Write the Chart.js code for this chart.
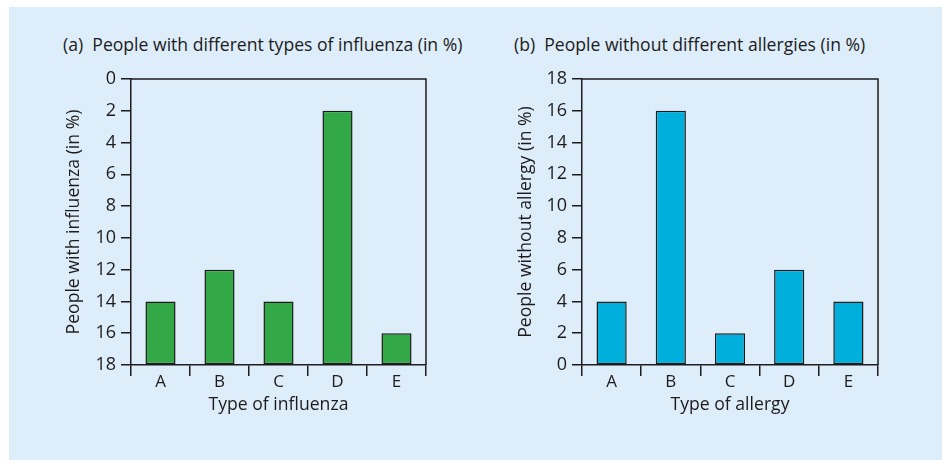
<!DOCTYPE html>
<html>
<head>
<meta charset="utf-8">
<script src="https://cdn.jsdelivr.net/npm/chart.js@4.4.0/dist/chart.umd.min.js"></script>
<style>
  html, body { margin: 0; padding: 0; background: #fff; }
  body { width: 942px; height: 460px; position: relative; overflow: hidden; font-family: 'Open Sans', sans-serif; color: #1e1b1c; }
  #panel { position: absolute; left: 9px; top: 7px; right: 0; bottom: 0; background: #ddeefa; }
  canvas { position: absolute; top: 0; }
  .ttl { position: absolute; top: 33px; font-size: 17.6px; line-height: 22px; white-space: pre; }
</style>
</head>
<body>
<div id="panel"></div>
<div class="ttl" style="left:63px">(a)  People with different types of influenza (in %)</div>
<div class="ttl" style="left:514px">(b)  People without different allergies (in %)</div>
<canvas id="chA" width="471" height="460" style="left:0"></canvas>
<canvas id="chB" width="471" height="460" style="left:471px"></canvas>
<script>
// --- data ---
const types = ['A', 'B', 'C', 'D', 'E'];
const influenza = [14, 12, 14, 2, 16];   // % with influenza (axis runs 0 at top)
const allergy = [4, 16, 2, 6, 4];        // % without allergy
const yTicks = [0, 2, 4, 6, 8, 10, 12, 14, 16, 18];

const INK = '#1e1b1c';
const FONT = "'Open Sans', sans-serif";

// top + right edge of the plot box
const frame = {
  id: 'frame',
  afterDraw(c) {
    const { ctx, chartArea: a } = c;
    ctx.save();
    ctx.strokeStyle = INK;
    ctx.lineWidth = 1.5;
    ctx.beginPath();
    ctx.moveTo(a.left, a.top);
    ctx.lineTo(a.right, a.top);
    ctx.lineTo(a.right, a.bottom);
    ctx.stroke();
    ctx.restore();
  }
};

function makeChart(id, vals, fill, yTitle, xTitle, reversed, padL, padR, yW) {
  const yMax = yTicks[yTicks.length - 1];
  return new Chart(document.getElementById(id), {
    type: 'bar',
    data: {
      labels: types,
      datasets: [{
        data: vals,
        base: reversed ? yMax : 0,
        backgroundColor: fill,
        borderColor: INK,
        borderWidth: 1.5,
        borderSkipped: false,
        barPercentage: 0.51,
        categoryPercentage: 1
      }]
    },
    options: {
      responsive: false,
      animation: false,
      layout: { padding: { left: padL, right: padR, top: 79, bottom: 40 } },
      plugins: { legend: { display: false }, tooltip: { enabled: false } },
      scales: {
        x: {
          grid: { display: true, offset: true, drawOnChartArea: false, tickLength: 11, color: INK, lineWidth: 1.5 },
          border: { display: true, color: INK, width: 1.5 },
          ticks: { color: INK, font: { family: FONT, size: 17 }, padding: -4, maxRotation: 0 },
          title: { display: true, text: xTitle, color: INK, font: { family: FONT, size: 17.6 }, padding: 4 },
          afterFit(s) { s.height = 55; }
        },
        y: {
          reverse: reversed,
          min: yTicks[0],
          max: yMax,
          afterBuildTicks(s) { s.ticks = yTicks.map(v => ({ value: v })); },
          grid: { display: true, drawOnChartArea: false, tickLength: 10, color: INK, lineWidth: 1.5 },
          border: { display: true, color: INK, width: 1.5 },
          ticks: { color: INK, font: { family: FONT, size: 18 }, padding: 5 },
          title: { display: true, text: yTitle, color: INK, font: { family: FONT, size: 17.6 }, padding: 4 },
          afterFit(s) { s.width = yW; }
        }
      }
    },
    plugins: [frame]
  });
}

makeChart('chA', influenza, '#33a846', 'People with influenza (in %)', 'Type of influenza', true, 59, 45, 72);
makeChart('chB', allergy, '#00afdb', 'People without allergy (in %)', 'Type of allergy', false, 40, 64, 71);
</script>
</body>
</html>
